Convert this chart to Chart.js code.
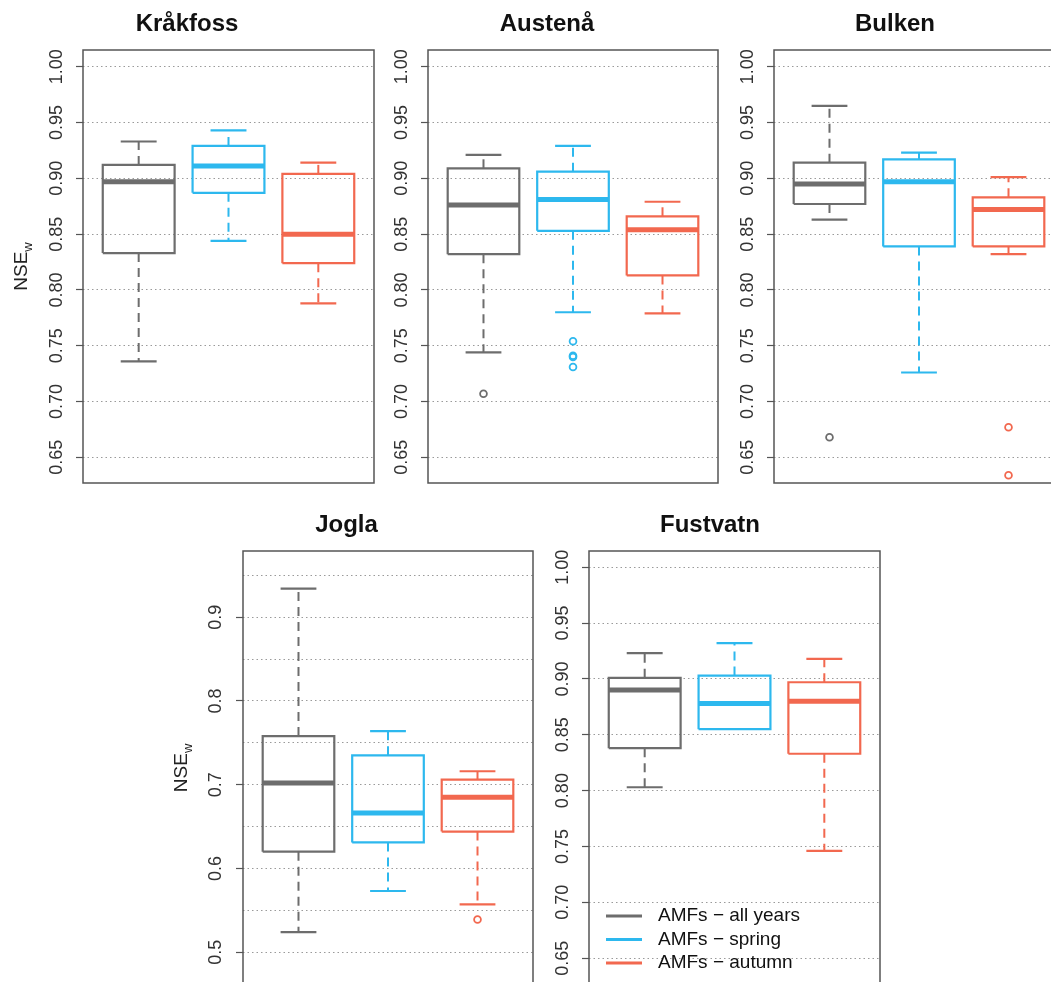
<!DOCTYPE html>
<html>
<head>
<meta charset="utf-8">
<script src="https://cdn.jsdelivr.net/npm/chart.js@4"></script>
<style>
  html, body { margin: 0; padding: 0; background: #fff; overflow: hidden; }
  #page { position: relative; width: 1051px; height: 982px; overflow: hidden; }
  .panel { position: absolute; }
</style>
</head>
<body>
<div id="page"></div>
<script>
// stations (one panel each) and the three box series
const stations = ['Kråkfoss', 'Austenå', 'Bulken', 'Jogla', 'Fustvatn'];
const seriesNames = ['AMFs − all years', 'AMFs − spring', 'AMFs − autumn'];
const seriesColors = ['#6d6d6d', '#2db8ee', '#f2684f'];

// box statistics, one row per series, one column per station
const whiskLow  = [[0.736, 0.744, 0.863, 0.524, 0.803],
                   [0.844, 0.780, 0.726, 0.573, 0.855],
                   [0.788, 0.779, 0.832, 0.557, 0.746]];
const boxLow    = [[0.833, 0.832, 0.877, 0.620, 0.838],
                   [0.887, 0.853, 0.839, 0.631, 0.855],
                   [0.824, 0.813, 0.839, 0.644, 0.833]];
const medians   = [[0.897, 0.876, 0.895, 0.702, 0.890],
                   [0.911, 0.881, 0.897, 0.666, 0.878],
                   [0.850, 0.854, 0.872, 0.685, 0.880]];
const boxHigh   = [[0.912, 0.909, 0.914, 0.758, 0.901],
                   [0.929, 0.906, 0.917, 0.735, 0.903],
                   [0.904, 0.866, 0.883, 0.706, 0.897]];
const whiskHigh = [[0.933, 0.921, 0.965, 0.934, 0.923],
                   [0.943, 0.929, 0.923, 0.764, 0.932],
                   [0.914, 0.879, 0.901, 0.716, 0.918]];
const outliers  = [[[], [0.707], [0.668], [], []],
                   [[], [0.754, 0.741, 0.740, 0.731], [], [], []],
                   [[], [], [0.677, 0.634], [0.539], []]];

// y tick values
const ticksNse = [0.65, 0.70, 0.75, 0.80, 0.85, 0.90, 0.95, 1.00];
const ticksJogla = [0.50, 0.55, 0.60, 0.65, 0.70, 0.75, 0.80, 0.85, 0.90, 0.95];
const labelledJogla = [0.5, 0.6, 0.7, 0.8, 0.9];

// panel placement on the page
const panels = [
  { left: 0,   top: 0,   width: 380, height: 490, axisW: 83, padR: 6, padB: 7, yMin: 0.627, yMax: 1.015, ticks: ticksNse, yTitle: true },
  { left: 376, top: 0,   width: 350, height: 490, axisW: 52, padR: 8, padB: 7, yMin: 0.627, yMax: 1.015, ticks: ticksNse },
  { left: 726, top: 0,   width: 345, height: 490, axisW: 48, padR: 7, padB: 7, yMin: 0.627, yMax: 1.015, ticks: ticksNse },
  { left: 160, top: 490, width: 380, height: 500, axisW: 83, padR: 7, padB: 5, yMin: 0.461, yMax: 0.979, ticks: ticksJogla, yTitle: true, jogla: true },
  { left: 540, top: 490, width: 348, height: 500, axisW: 49, padR: 8, padB: 5, yMin: 0.626, yMax: 1.0145, ticks: ticksNse, legend: true }
];

const FONT = '"Liberation Sans", Arial, Helvetica, sans-serif';

const seg = (x1, y1, x2, y2) => [{ x: x1, y: y1 }, { x: x2, y: y2 }];

const lineSet = (data, color, width, dash) => ({
  data: data,
  showLine: true,
  borderColor: color,
  borderWidth: width,
  borderDash: dash || [],
  borderCapStyle: 'butt',
  pointRadius: 0,
  pointHoverRadius: 0,
  fill: false
});

const buildDatasets = (p) => {
  const sets = [];
  for (let s = 0; s < 3; s++) {
    const x = s + 1, c = seriesColors[s];
    const lo = whiskLow[s][p], q1 = boxLow[s][p], md = medians[s][p];
    const q3 = boxHigh[s][p], hi = whiskHigh[s][p];
    // whiskers
    if (hi > q3) {
      sets.push(lineSet(seg(x, q3, x, hi), c, 2, [9, 6]));
      sets.push(lineSet(seg(x - 0.2, hi, x + 0.2, hi), c, 2.2));
    }
    if (lo < q1) {
      sets.push(lineSet(seg(x, q1, x, lo), c, 2, [9, 6]));
      sets.push(lineSet(seg(x - 0.2, lo, x + 0.2, lo), c, 2.2));
    }
    // box
    sets.push(lineSet([
      { x: x - 0.4, y: q1 }, { x: x + 0.4, y: q1 }, { x: x + 0.4, y: q3 },
      { x: x - 0.4, y: q3 }, { x: x - 0.4, y: q1 }
    ], c, 2.2));
    // median
    sets.push(lineSet(seg(x - 0.4, md, x + 0.4, md), c, 5));
    // outliers
    if (outliers[s][p].length) {
      sets.push({
        data: outliers[s][p].map(v => ({ x: x, y: v })),
        showLine: false,
        pointRadius: 3.4,
        pointBorderWidth: 1.8,
        pointBorderColor: c,
        pointBackgroundColor: 'rgba(0,0,0,0)',
        pointHoverRadius: 3.4
      });
    }
  }
  return sets;
};

// frame around the plot region, NSEw title and the legend
const framePlugin = {
  id: 'frame',
  afterDraw(chart, args, opts) {
    const ctx = chart.ctx, a = chart.chartArea;
    ctx.save();
    ctx.strokeStyle = '#555';
    ctx.lineWidth = 1.5;
    ctx.strokeRect(a.left, a.top, a.right - a.left, a.bottom - a.top);

    if (opts.yTitle) {
      const cx = a.left - 61, cy = (a.top + a.bottom) / 2;
      ctx.translate(cx, cy);
      ctx.rotate(-Math.PI / 2);
      ctx.fillStyle = '#222';
      ctx.textBaseline = 'middle';
      ctx.font = '19px ' + FONT;
      const w1 = ctx.measureText('NSE').width;
      ctx.font = '13px ' + FONT;
      const w2 = ctx.measureText('w').width;
      const start = -(w1 + w2) / 2;
      ctx.font = '19px ' + FONT;
      ctx.textAlign = 'left';
      ctx.fillText('NSE', start, 0);
      ctx.font = '13px ' + FONT;
      ctx.fillText('w', start + w1, 6);
      ctx.setTransform(1, 0, 0, 1, 0, 0);
    }

    if (opts.legend) {
      ctx.font = '19px ' + FONT;
      ctx.textAlign = 'left';
      ctx.textBaseline = 'middle';
      seriesNames.forEach((name, i) => {
        const y = a.bottom - 69 + i * 23.5;
        ctx.strokeStyle = seriesColors[i];
        ctx.lineWidth = 3;
        ctx.beginPath();
        ctx.moveTo(a.left + 17, y);
        ctx.lineTo(a.left + 53, y);
        ctx.stroke();
        ctx.fillStyle = '#111';
        ctx.fillText(name, a.left + 69, y);
      });
    }
    ctx.restore();
  }
};

const page = document.getElementById('page');

panels.forEach((cfg, p) => {
  const holder = document.createElement('div');
  holder.className = 'panel';
  holder.style.left = cfg.left + 'px';
  holder.style.top = cfg.top + 'px';
  holder.style.width = cfg.width + 'px';
  holder.style.height = cfg.height + 'px';
  const canvas = document.createElement('canvas');
  holder.appendChild(canvas);
  page.appendChild(holder);

  const isLabelled = (v) => !cfg.jogla || labelledJogla.some(t => Math.abs(t - v) < 1e-6);
  const titlePadTop = p < 3 ? 9.5 : 20.5;

  new Chart(canvas, {
    type: 'scatter',
    data: { datasets: buildDatasets(p) },
    plugins: [framePlugin],
    options: {
      responsive: true,
      maintainAspectRatio: false,
      animation: false,
      events: [],
      layout: { padding: { left: 0, right: cfg.padR, top: 0, bottom: cfg.padB } },
      plugins: {
        legend: { display: false },
        tooltip: { enabled: false },
        title: {
          display: true,
          text: stations[p],
          color: '#111',
          font: { family: FONT, size: 24, weight: 'bold', lineHeight: 1.2 },
          padding: { top: titlePadTop, bottom: 11.7 }
        },
        frame: { yTitle: !!cfg.yTitle, legend: !!cfg.legend }
      },
      scales: {
        x: {
          type: 'linear',
          min: 0.38,
          max: 3.62,
          display: false
        },
        y: {
          type: 'linear',
          min: cfg.yMin,
          max: cfg.yMax,
          afterBuildTicks: (scale) => {
            scale.ticks = cfg.ticks.map(v => ({ value: v }));
          },
          afterFit: (scale) => {
            scale.width = cfg.axisW;
            scale.paddingTop = 0;
            scale.paddingBottom = 0;
          },
          border: { display: false, dash: [1.5, 3] },
          grid: {
            color: '#9a9a9a',
            lineWidth: 1,
            drawTicks: true,
            tickLength: 7,
            tickWidth: 1.2,
            tickColor: (ctx) => (ctx.tick && isLabelled(ctx.tick.value)) ? '#555' : 'rgba(0,0,0,0)'
          },
          ticks: {
            minRotation: 90,
            maxRotation: 90,
            crossAlign: 'center',
            padding: cfg.jogla ? 7 : 1,
            color: '#333',
            font: { family: FONT, size: 18 },
            callback: (v) => {
              if (!isLabelled(v)) return '';
              return cfg.jogla ? Number(v).toFixed(1) : Number(v).toFixed(2);
            }
          }
        }
      }
    }
  });
});
</script>
</body>
</html>
